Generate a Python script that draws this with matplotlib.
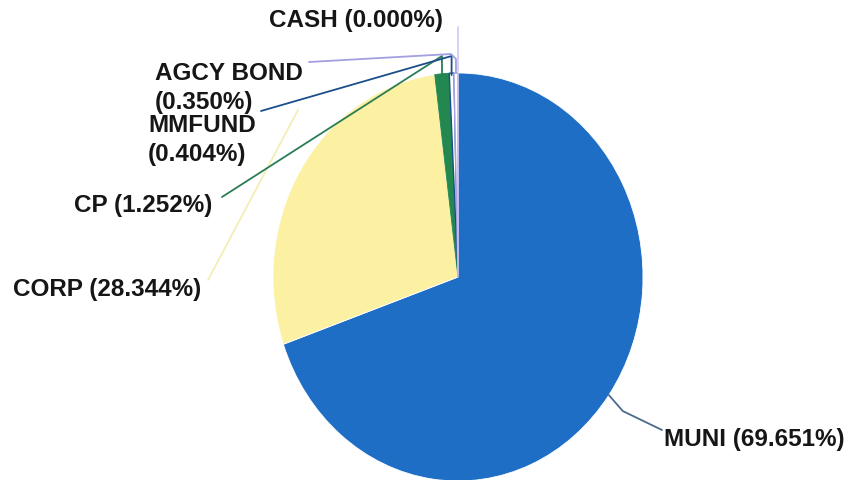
import numpy as np
import matplotlib.pyplot as plt

plt.rcParams['font.family'] = ['Liberation Sans', 'DejaVu Sans']

# data
sectors = ['MUNI', 'CORP', 'CP', 'MMFUND', 'AGCY BOND', 'CASH']
shares = [69.651, 28.344, 1.252, 0.404, 0.350, 0.000]
label_text = ['MUNI (69.651%)', 'CORP (28.344%)', 'CP (1.252%)',
              'MMFUND\n(0.404%)', 'AGCY BOND\n(0.350%)', 'CASH (0.000%)']

# styles
fills = ['#1f6ec6', '#fcf0a2', '#23884f', '#ffffff', '#ffffff', '#ffffff']
edges = ['#ffffff', '#ffffff', '#23884f', '#1b4f8c', '#a7a3e3', '#c9c6f0']
line_cols = ['#4d6a8e', '#f4eeb4', '#2b7d55', '#1b4f8c', '#a39fe0', '#d2cff3']

# layout in image pixels (x from left, y from top)
W, H = 850, 481
cx, cy, rx, ry = 458, 278, 185, 204
label_pos = [(664, 440, 'left'), (13, 290, 'left'), (74, 206, 'left'),
             (148, 140, 'left'), (155, 88, 'left'), (269, 20, 'left')]
label_end = [(662, 431), (208, 281), (222, 198), (261, 112), (309, 63), (456, 28)]

fig = plt.figure(figsize=(W / 100, H / 100), dpi=100)
ax = fig.add_axes([(cx - rx) / W, (H - cy - ry) / H, 2 * rx / W, 2 * ry / H])
wedges, _ = ax.pie(shares, startangle=90, counterclock=False, colors=fills,
                   radius=1, normalize=True)
for w, ec, s in zip(wedges, edges, sectors):
    w.set_edgecolor(ec)
    w.set_linewidth(1.0 if s in ('MMFUND', 'AGCY BOND', 'CASH') else 0.6)
ax.set_aspect('auto')
ax.set_xlim(-1, 1)
ax.set_ylim(-1, 1)
ax.axis('off')

ov = fig.add_axes([0, 0, 1, 1], zorder=3)
ov.set_xlim(0, W)
ov.set_ylim(H, 0)
ov.axis('off')

for i, w in enumerate(wedges):
    mid = np.deg2rad((w.theta1 + w.theta2) / 2)
    px = cx + rx * np.cos(mid)
    py = cy - ry * np.sin(mid)
    ex, ey = label_end[i]
    if sectors[i] == 'MUNI':
        xs = [px, px + 14, ex]
        ys = [py, py + 16, ey]
    elif sectors[i] == 'CORP':
        xs = [ex, ex + 90]
        ys = [ey, ey - 170]
    elif sectors[i] == 'CASH':
        xs = [px, px]
        ys = [py - 2, ey]
    elif sectors[i] == 'AGCY BOND':
        xs = [px, px, px - 5, ex]
        ys = [py, 60, 55, ey]
    else:
        xs = [px, px, ex]
        ys = [py + 2, 57, ey]
    ov.plot(xs, ys, color=line_cols[i], lw=1.3, solid_capstyle='round')

for i, txt in enumerate(label_text):
    x, y, ha = label_pos[i]
    ov.text(x, y, txt, ha=ha, va='center', fontsize=17.5, fontweight='bold',
            color='#161616', linespacing=1.3, multialignment='left')

fig.savefig('out.png', dpi=100, facecolor='white')
